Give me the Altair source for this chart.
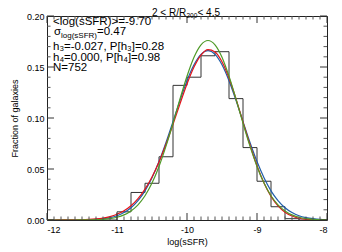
import altair as alt
import pandas as pd

# ---------------- data ----------------
bin_left = [-11.0, -10.8, -10.6, -10.4, -10.2, -10.0, -9.8, -9.6, -9.4, -9.2, -9.0, -8.8, -8.6]
bin_frac = [0.008, 0.027, 0.036, 0.062, 0.132, 0.140, 0.161, 0.165, 0.119, 0.071, 0.038, 0.013, 0.0013]
bin_width = 0.2

x_grid = [round(-12 + 0.1 * i, 1) for i in range(41)]
red_vals = [0, 0, 0.0001, 0.0001, 0.0002, 0.0003, 0.0006, 0.0011, 0.0019, 0.0033,
            0.0056, 0.0090, 0.0139, 0.0209, 0.0302, 0.0421, 0.0569, 0.0743, 0.0937, 0.1139,
            0.1333, 0.1499, 0.1617, 0.1670, 0.1648, 0.1552, 0.1392, 0.1187, 0.0960, 0.0735,
            0.0532, 0.0363, 0.0232, 0.0139, 0.0077, 0.0039, 0.0017, 0.0006, 0.0001, 0, 0]
blue_vals = [0, 0, 0, 0, 0, 0.0001, 0.0003, 0.0006, 0.0013, 0.0024,
             0.0042, 0.0073, 0.0120, 0.0190, 0.0286, 0.0414, 0.0573, 0.0760, 0.0965, 0.1173,
             0.1366, 0.1522, 0.1624, 0.1660, 0.1624, 0.1522, 0.1366, 0.1173, 0.0965, 0.0760,
             0.0573, 0.0414, 0.0286, 0.0190, 0.0120, 0.0073, 0.0042, 0.0024, 0.0013, 0.0006, 0.0003]
green_vals = [0, 0, 0, 0, 0, 0.0001, 0.0001, 0.0003, 0.0007, 0.0014,
              0.0027, 0.0050, 0.0089, 0.0149, 0.0238, 0.0362, 0.0525, 0.0724, 0.0949, 0.1186,
              0.1409, 0.1595, 0.1717, 0.1760, 0.1717, 0.1595, 0.1409, 0.1186, 0.0949, 0.0724,
              0.0525, 0.0362, 0.0238, 0.0149, 0.0089, 0.0050, 0.0027, 0.0014, 0.0007, 0.0003, 0.0001]

x_major = [-12, -11, -10, -9, -8]
x_minor = [round(-12 + 0.1 * i, 1) for i in range(41) if i % 10 != 0]
y_major = [0.0, 0.05, 0.10, 0.15, 0.20]
y_minor = [round(0.01 * i, 2) for i in range(21) if i % 5 != 0]

title_parts = ["2 < R/R", "200", " < 4.5"]
mean_val, sigma_val = "-9.70", "0.47"
h3_val, ph3_val = "-0.027", "0.28"
h4_val, ph4_val = "0.000", "0.98"
n_val = "752"

# ---------------- layout ----------------
W, H = 280, 204
FONT = "Liberation Sans"
xs = alt.Scale(domain=[-12, -8], nice=False, zero=False)
ys = alt.Scale(domain=[0, 0.2], nice=False)

hist_x = [-12.0] + bin_left + [bin_left[-1] + bin_width, -8.0]
hist_y = [0.0] + bin_frac + [0.0, 0.0]
hist_df = pd.DataFrame({"x": hist_x, "y": hist_y})

curves = pd.DataFrame({"x": x_grid, "red": red_vals, "blue": blue_vals, "green": green_vals})

base = alt.Chart(curves)

hist = alt.Chart(hist_df).mark_line(interpolate="step-after", color="#333333", strokeWidth=1).encode(
    x=alt.X("x:Q", scale=xs, axis=alt.Axis(values=x_major, title="log(sSFR)",
                                           labelExpr="toString(datum.value)")),
    y=alt.Y("y:Q", scale=ys, axis=alt.Axis(values=y_major, format=".2f", title="Fraction of galaxies")),
)

def curve(col, color):
    return base.mark_line(interpolate="monotone", color=color, strokeWidth=1.2, clip=True).encode(
        x=alt.X("x:Q", scale=xs), y=alt.Y(f"{col}:Q", scale=ys))

blue_l = curve("blue", "#1f5fa8")
red_l = curve("red", "#e3141b")
green_l = curve("green", "#4f9a28")

def xticks(vals, length, color):
    df = pd.DataFrame({"t": vals})
    b = alt.Chart(df).mark_rule(color=color, strokeWidth=1).encode(
        x=alt.X("t:Q", scale=xs), y=alt.value(H), y2=alt.value(H - length))
    t = alt.Chart(df).mark_rule(color=color, strokeWidth=1).encode(
        x=alt.X("t:Q", scale=xs), y=alt.value(0), y2=alt.value(length))
    return b + t

def yticks(vals, length, color):
    df = pd.DataFrame({"t": vals})
    l = alt.Chart(df).mark_rule(color=color, strokeWidth=1).encode(
        y=alt.Y("t:Q", scale=ys), x=alt.value(0), x2=alt.value(length))
    r = alt.Chart(df).mark_rule(color=color, strokeWidth=1).encode(
        y=alt.Y("t:Q", scale=ys), x=alt.value(W), x2=alt.value(W - length))
    return l + r

ticks = (xticks(x_major, 7, "#333333") + xticks(x_minor, 3.5, "#555555")
         + yticks(y_major, 7, "#333333") + yticks(y_minor, 3.5, "#555555"))

def txt(s, x, y, size):
    return alt.Chart(pd.DataFrame({"s": [s]})).mark_text(
        align="left", baseline="alphabetic", font=FONT, fontSize=size, color="black"
    ).encode(x=alt.value(x), y=alt.value(y), text="s:N")

labels = (
    txt(title_parts[0], 105, -0.5, 10) + txt(title_parts[1], 139.5, 1.5, 6.5) + txt(title_parts[2], 150.5, -0.5, 10)
    + txt(f"<log(sSFR)>={mean_val}", 6, 9, 11.5)
    + txt("σ", 7, 19, 11.5) + txt("log(sSFR)", 14, 22, 8) + txt(f"={sigma_val}", 50, 19, 11.5)
    + txt(f"h₃={h3_val}, P[h₃]={ph3_val}", 6, 33.5, 11.5)
    + txt(f"h₄={h4_val}, P[h₄]={ph4_val}", 6, 45, 11.5)
    + txt(f"N={n_val}", 6, 55, 11.5)
)

chart = alt.layer(hist, blue_l, red_l, green_l, ticks, labels).properties(
    width=W, height=H, autosize="none",
    padding={"left": 39, "top": 8, "right": 7, "bottom": 32},
).configure_view(stroke="#222222", strokeWidth=1).configure_axis(
    grid=False, ticks=False, domain=False,
    labelFont=FONT, labelFontSize=9, labelColor="black",
    titleFont=FONT, titleFontSize=9, titleFontWeight="normal", titleColor="black",
).configure_axisX(labelPadding=5, titlePadding=3).configure_axisY(labelPadding=3, titlePadding=7)

chart.save("out.html", embed_options={"renderer": "svg", "actions": False})
